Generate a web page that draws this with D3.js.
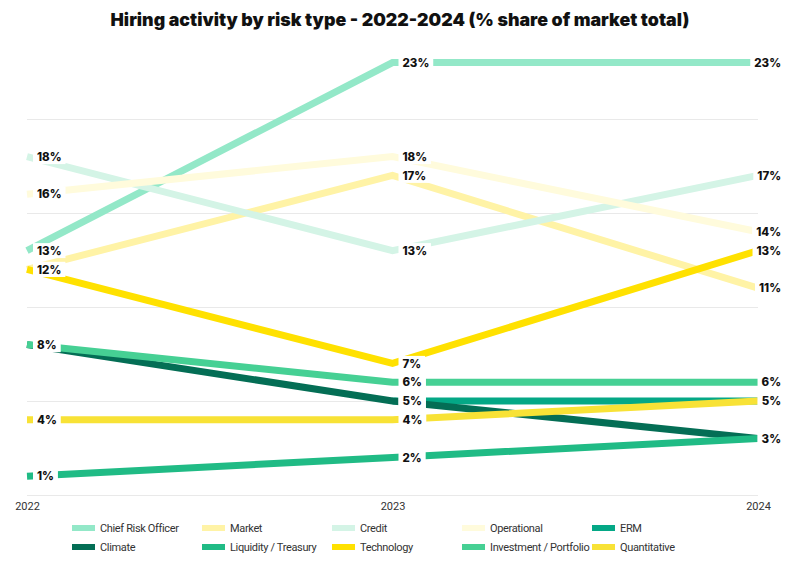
<!DOCTYPE html>
<html>
<head>
<meta charset="utf-8">
<script src="https://cdn.jsdelivr.net/npm/d3@7"></script>
<style>
  html, body { margin: 0; padding: 0; background: #fff; }
  svg { display: block; }
  .title { font-family: Inter, "Open Sans", sans-serif; font-weight: 900; font-size: 17.8px; fill: #111; }
  .val { font-family: Inter, "Open Sans", sans-serif; font-weight: 800; font-size: 11.5px; fill: #111; }
  .year { font-family: Roboto, "Open Sans", sans-serif; font-size: 11px; fill: #333; }
  .leg { font-family: Roboto, sans-serif; font-size: 11px; letter-spacing: -0.35px; fill: #333; }
</style>
</head>
<body>
<svg width="800" height="568"></svg>
<script>
const width = 800;
const height = 568;

const years = ["2022", "2023", "2024"];
const seriesNames = [
  "Chief Risk Officer", "Market", "Credit", "Operational", "ERM",
  "Climate", "Liquidity / Treasury", "Technology", "Investment / Portfolio", "Quantitative"
];
const colors = [
  "#93e8c8", "#fff3a6", "#d4f4e6", "#fffbdc", "#04a886",
  "#046e55", "#20bb85", "#ffe100", "#46d094", "#f8e236"
];

// % share per year (2022, 2023, 2024)
const chiefRiskOfficer = [13, 23, 23];
const market = [12, 17, 11];
const credit = [18, 13, 17];
const operational = [16, 18, 14];
const erm = [null, 5, 5];
const climate = [8, 5, 3];
const liquidity = [1, 2, 3];
const technology = [12, 7, 13];
const investment = [8, 6, 6];
const quantitative = [4, 4, 5];

const allValues = [chiefRiskOfficer, market, credit, operational, erm,
  climate, liquidity, technology, investment, quantitative];

const yTicks = [0, 5, 10, 15, 20];

const svg = d3.select("svg");

const x = d3.scalePoint().domain(years).range([27, 758]);
const y = d3.scaleLinear().domain([0, 25]).range([495, 25]);

// title
svg.append("text")
  .attr("class", "title")
  .attr("x", width / 2)
  .attr("y", 26)
  .attr("text-anchor", "middle")
  .text("Hiring activity by risk type - 2022-2024 (% share of market total)");

// gridlines
svg.append("g")
  .attr("transform", `translate(27,0)`)
  .call(d3.axisLeft(y).tickValues(yTicks).tickSize(-(758 - 27)).tickFormat(""))
  .call((g) => g.select(".domain").remove())
  .call((g) => g.selectAll(".tick line").attr("stroke", "#e9e9e9"));

// year labels
svg.append("g")
  .attr("transform", `translate(0,502)`)
  .call(d3.axisBottom(x).tickSize(0).tickPadding(0))
  .call((g) => g.select(".domain").remove())
  .call((g) => g.selectAll("text").attr("class", "year").attr("fill", null).attr("dy", "0.71em"));

const rows = seriesNames.map((name, i) => ({
  name,
  color: colors[i],
  points: years.map((yr, j) => ({ year: yr, value: allValues[i][j] }))
}));

const line = d3.line()
  .defined((d) => d.value != null)
  .x((d) => x(d.year))
  .y((d) => y(d.value));

svg.append("g")
  .selectAll("path")
  .data(rows)
  .join("path")
  .attr("fill", "none")
  .attr("stroke", (d) => d.color)
  .attr("stroke-width", 7)
  .attr("d", (d) => line(d.points));

// value labels with white backing
const labels = [];
rows.forEach((r) => {
  r.points.forEach((p, j) => {
    if (p.value != null) labels.push({ ...p, idx: j });
  });
});

const lab = svg.append("g").selectAll("g").data(labels).join("g");

lab.each(function (d) {
  const g = d3.select(this);
  const cy = y(d.value);
  const t = g.append("text")
    .attr("class", "val")
    .attr("y", cy)
    .attr("dy", "0.36em")
    .text(d.value + "%");
  const w = t.node().getComputedTextLength();
  // last column is right-aligned, others sit just right of the point
  const tx = d.idx === 2 ? 781 - w : x(d.year) + 10;
  t.attr("x", tx);
  g.insert("rect", "text")
    .attr("x", tx - 4)
    .attr("y", cy - 7.5)
    .attr("width", w + 8)
    .attr("height", 15)
    .attr("fill", "#fff");
});

// legend
const legend = svg.append("g")
  .selectAll("g")
  .data(rows)
  .join("g")
  .attr("transform", (d, i) => `translate(${72 + (i % 5) * 130},${i < 5 ? 528 : 547})`);

legend.append("rect")
  .attr("x", 0)
  .attr("y", -3)
  .attr("width", 23)
  .attr("height", 6)
  .attr("fill", (d) => d.color);

legend.append("text")
  .attr("class", "leg")
  .attr("x", 28)
  .attr("dy", "0.35em")
  .text((d) => d.name);
</script>
</body>
</html>
